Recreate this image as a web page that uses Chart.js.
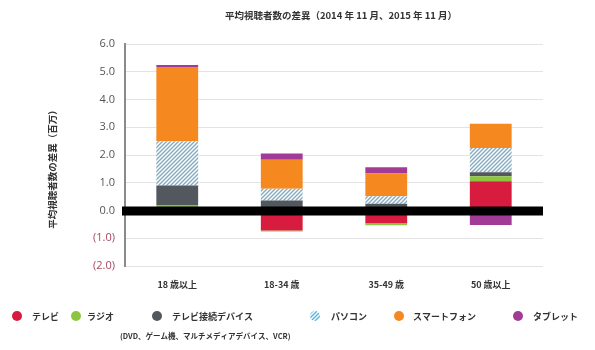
<!DOCTYPE html>
<html lang="ja">
<head>
<meta charset="utf-8">
<title>平均視聴者数の差異</title>
<script src="https://cdn.jsdelivr.net/npm/chart.js@4.4.0/dist/chart.umd.min.js"></script>
<style>
  html, body { margin: 0; padding: 0; background: #fff; }
  #wrap { position: relative; width: 595px; height: 350px; }
</style>
</head>
<body>
<div id="wrap"><canvas id="chart1" width="595" height="350"></canvas></div>
<script>
// values (millions)
var categories = ['18 歳以上', '18-34 歳', '35-49 歳', '50 歳以上'];
var tv         = [0, -0.72, -0.46, 1.05];
var radio      = [0.2, -0.04, -0.07, 0.18];
var device     = [0.7, 0.36, 0.24, 0.15];
var pc         = [1.6, 0.42, 0.27, 0.87];
var smartphone = [2.67, 1.05, 0.82, 0.88];
var tablet     = [0.07, 0.22, 0.23, -0.52];
var seriesNames = ['テレビ', 'ラジオ', 'テレビ接続デバイス', 'パソコン', 'スマートフォン', 'タブレット'];
var yMin = -2, yMax = 6, yStep = 1;

var cjk = "'Noto Sans CJK JP', sans-serif";
var canvas = document.getElementById('chart1');
var ctx = canvas.getContext('2d');

// diagonal hatch for パソコン
function makeHatch(stripe) {
  var c = document.createElement('canvas');
  c.width = 4; c.height = 4;
  var g = c.getContext('2d');
  g.fillStyle = '#ffffff';
  g.fillRect(0, 0, 4, 4);
  g.strokeStyle = stripe;
  g.lineWidth = 1.4;
  g.beginPath();
  g.moveTo(0, 4); g.lineTo(4, 0);
  g.moveTo(-1, 1); g.lineTo(1, -1);
  g.moveTo(3, 5); g.lineTo(5, 3);
  g.stroke();
  return ctx.createPattern(c, 'repeat');
}
var hatch = makeHatch('#84abc1');
var hatchLegend = makeHatch('#5ab4de');

var colors = ['#d81c3f', '#8cc63f', '#53575e', hatch, '#f5891f', '#a23b95'];
var legendColors = ['#d81c3f', '#8cc63f', '#53575e', hatchLegend, '#f5891f', '#a23b95'];
var values = [tv, radio, device, pc, smartphone, tablet];

var datasets = values.map(function (v, i) {
  return {
    label: seriesNames[i],
    data: v,
    backgroundColor: colors[i],
    borderWidth: 0,
    barPercentage: 0.4,
    categoryPercentage: 1.0
  };
});

// thick black zero line, titles and the hand-placed legend
var decorations = {
  id: 'decorations',
  afterDatasetsDraw: function (chart) {
    var c = chart.ctx, a = chart.chartArea;
    var y0 = chart.scales.y.getPixelForValue(0);
    c.save();
    c.fillStyle = '#000';
    c.fillRect(a.left - 3, y0 - 4, a.right - a.left + 3, 9);
    c.restore();
  },
  afterDraw: function (chart) {
    var c = chart.ctx;
    c.save();
    c.fillStyle = '#333';
    c.textBaseline = 'middle';

    // title
    c.font = 'bold 9.5px ' + cjk;
    c.textAlign = 'center';
    c.fillText('平均視聴者数の差異（2014 年 11 月、2015 年 11 月）', 341, 15);

    // y axis title
    c.save();
    c.translate(52, 167);
    c.rotate(-Math.PI / 2);
    c.font = 'bold 9.5px ' + cjk;
    c.fillText('平均視聴者数の差異（百万）', 0, 0);
    c.restore();

    // legend
    var markX = [17, 76, 157, 315, 399, 518];
    var textX = [32, 87, 172, 331, 413, 533];
    var ly = 316;
    c.textAlign = 'left';
    c.font = 'bold 9px ' + cjk;
    for (var i = 0; i < seriesNames.length; i++) {
      c.fillStyle = legendColors[i];
      c.beginPath();
      c.arc(markX[i], ly, 5, 0, Math.PI * 2);
      c.fill();
      c.fillStyle = '#333';
      c.fillText(seriesNames[i], textX[i], ly + 0.5);
    }
    c.font = 'bold 7.5px ' + cjk;
    c.fillText('(DVD、ゲーム機、マルチメディアデバイス、VCR)', 120, 336);
    c.restore();
  }
};

new Chart(ctx, {
  type: 'bar',
  data: { labels: categories, datasets: datasets },
  options: {
    responsive: false,
    animation: false,
    layout: { padding: { left: 0, right: 52, top: 44, bottom: 0 } },
    plugins: {
      legend: { display: false },
      title: { display: false },
      tooltip: { enabled: false }
    },
    scales: {
      x: {
        stacked: true,
        grid: { display: false },
        border: { display: false },
        afterFit: function (s) { s.height = 84; },
        ticks: {
          padding: 5,
          color: '#333',
          font: { family: cjk, size: 9, weight: 'bold' }
        }
      },
      y: {
        stacked: true,
        min: yMin,
        max: yMax,
        afterFit: function (s) { s.width = 125; },
        grid: { color: '#e3e3e3', drawTicks: false },
        border: { color: '#8a8a8a', width: 2 },
        ticks: {
          stepSize: yStep,
          padding: 10,
          font: { family: "'Open Sans', sans-serif", size: 11 },
          color: function (c) { return c.tick && c.tick.value < 0 ? '#a8475c' : '#555'; },
          callback: function (v) {
            return v < 0 ? '(' + Math.abs(v).toFixed(1) + ')' : v.toFixed(1);
          }
        }
      }
    }
  },
  plugins: [decorations]
});
</script>
</body>
</html>
